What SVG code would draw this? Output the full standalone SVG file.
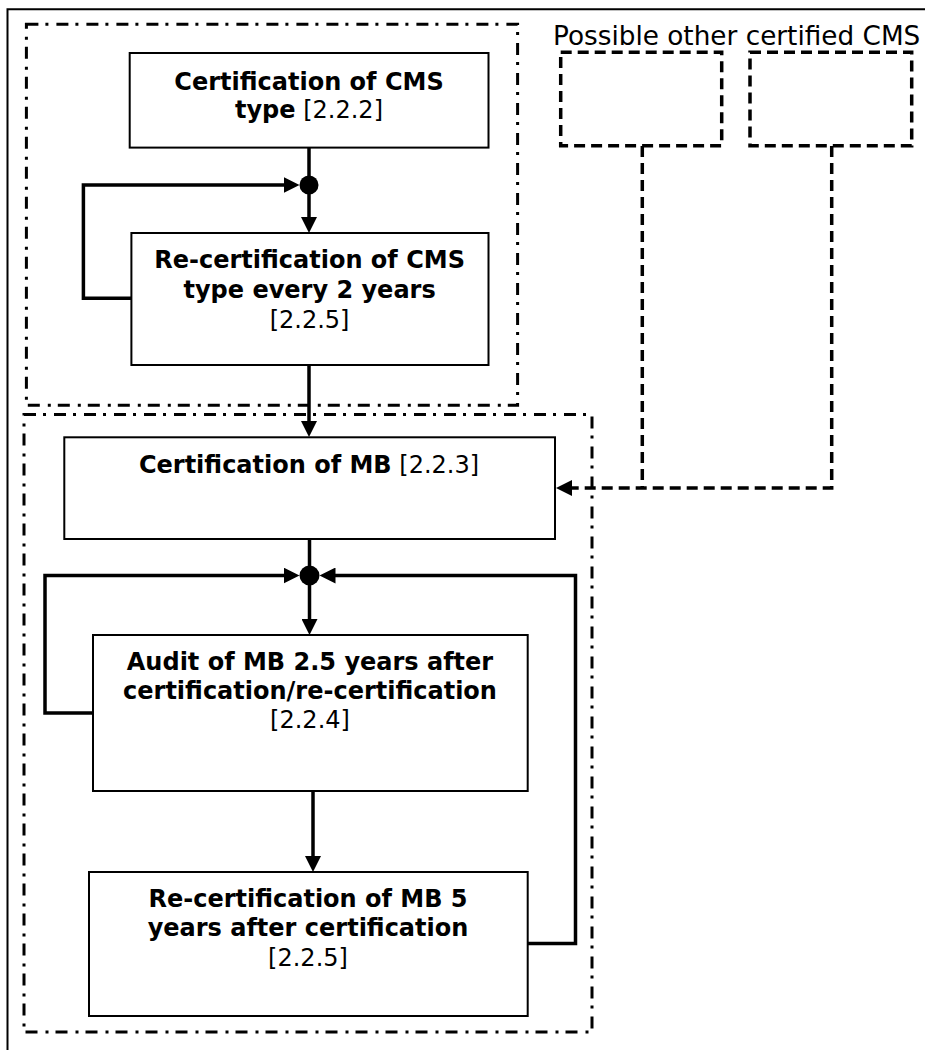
<svg xmlns="http://www.w3.org/2000/svg" width="925" height="1050" viewBox="0 0 925 1050">
<style>
.bg{fill:#fff}
.frame{fill:none;stroke:#000;stroke-width:2}
.group{fill:none;stroke:#000;stroke-width:3;stroke-dasharray:12 7 3 8}
.box{fill:#fff;stroke:#000;stroke-width:2}
.dbox{fill:none;stroke:#000;stroke-width:3.5;stroke-dasharray:11 6}
.conn{fill:none;stroke:#000;stroke-width:3.5}
.dconn{fill:none;stroke:#000;stroke-width:3.5;stroke-dasharray:11 6}
text{font-family:"DejaVu Sans","Verdana",sans-serif;font-size:24px;fill:#000}
.c{text-anchor:middle}
.b{font-weight:bold}
.lbl{font-size:26.3px}
</style>
<defs>
<marker id="arr" markerUnits="userSpaceOnUse" markerWidth="16" markerHeight="16" refX="6" refY="8" orient="auto">
<path d="M0,0 L16,8 L0,16 z" fill="#000"/>
</marker>
</defs>
<rect class="bg" x="0" y="0" width="925" height="1050"/>
<path class="frame" d="M7.5,1052 V9.3 H927"/>

<g id="group-cms">
<rect class="group" x="26.4" y="24.3" width="491.2" height="381"/>
</g>
<g id="group-mb">
<rect class="group" x="24" y="414.5" width="568" height="617.5"/>
</g>

<g id="connectors">
<path class="conn" d="M309,148 V185"/>
<path class="conn" d="M309,185 V223" marker-end="url(#arr)"/>
<path class="conn" d="M131.4,298.3 H83.4 V185 H289.5" marker-end="url(#arr)"/>
<path class="conn" d="M309,365 V427" marker-end="url(#arr)"/>
<path class="conn" d="M309.5,539 V575.5"/>
<path class="conn" d="M309.5,575.5 V625" marker-end="url(#arr)"/>
<path class="conn" d="M93,713 H45 V575.5 H289.5" marker-end="url(#arr)"/>
<path class="conn" d="M313,791 V862" marker-end="url(#arr)"/>
<path class="conn" d="M527.7,943.5 H575.5 V575.5 H329.5" marker-end="url(#arr)"/>
<path class="dconn" d="M642.3,146 V488"/>
<path class="dconn" d="M831.7,146 V488 H566" marker-end="url(#arr)"/>
<circle cx="309" cy="185" r="9.5" fill="#000"/>
<circle cx="309.5" cy="575.5" r="10" fill="#000"/>
</g>

<g id="node-cert-cms">
<rect class="box" x="129.7" y="53" width="358.8" height="94.6"/>
<text class="c b" x="309" y="89.5">Certification of CMS</text>
<text class="c" x="309" y="118"><tspan class="b">type</tspan> [2.2.2]</text>
</g>

<g id="node-recert-cms">
<rect class="box" x="131.4" y="233" width="357.1" height="132"/>
<text class="c b" x="309.6" y="268">Re-certification of CMS</text>
<text class="c b" x="309.6" y="298">type every 2 years</text>
<text class="c" x="309.6" y="328">[2.2.5]</text>
</g>

<g id="node-cert-mb">
<rect class="box" x="64.3" y="437.3" width="490.7" height="101.7"/>
<text class="c" x="309" y="472.5"><tspan class="b">Certification of MB</tspan> [2.2.3]</text>
</g>

<g id="node-audit-mb">
<rect class="box" x="93" y="635" width="434.7" height="156"/>
<text class="c b" x="310" y="670">Audit of MB 2.5 years after</text>
<text class="c b" x="310" y="699">certification/re-certification</text>
<text class="c" x="310" y="728">[2.2.4]</text>
</g>

<g id="node-recert-mb">
<rect class="box" x="89" y="872" width="438.7" height="144"/>
<text class="c b" x="308" y="907">Re-certification of MB 5</text>
<text class="c b" x="308" y="936">years after certification</text>
<text class="c" x="308" y="966">[2.2.5]</text>
</g>

<g id="node-other-cms">
<text class="lbl" x="553" y="45">Possible other certified CMS</text>
<rect class="dbox" x="560.7" y="52.3" width="161" height="93.4"/>
<rect class="dbox" x="750" y="52.3" width="161.7" height="93.4"/>
</g>
</svg>
